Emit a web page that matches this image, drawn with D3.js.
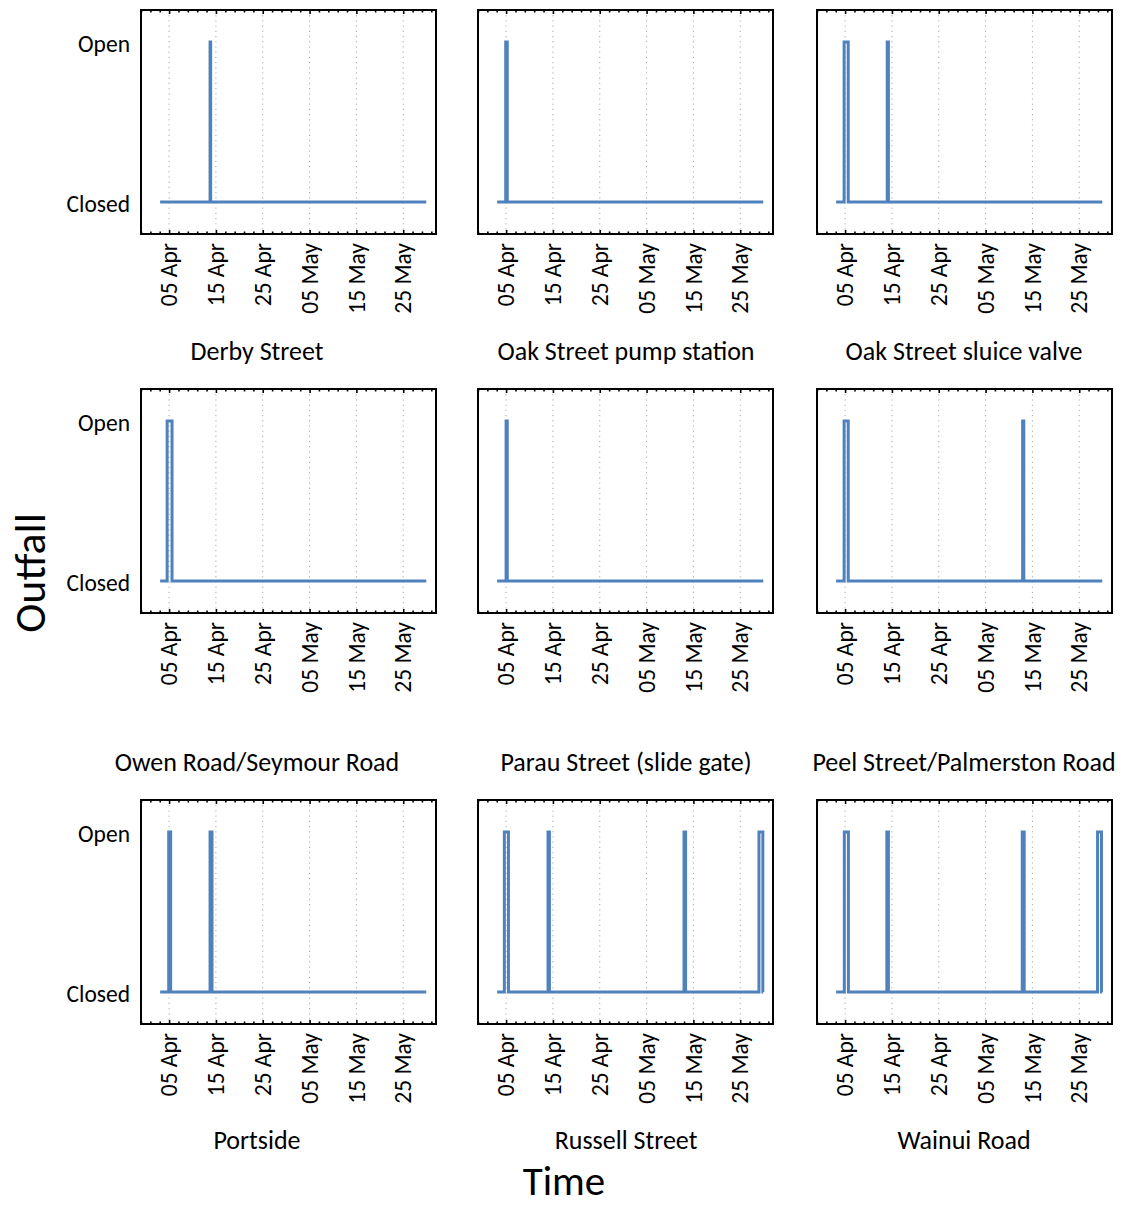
<!DOCTYPE html>
<html>
<head>
<meta charset="utf-8">
<script src="https://cdn.jsdelivr.net/npm/d3@7"></script>
<style>
  html, body { margin: 0; padding: 0; background: #fff; }
  svg { display: block; font-family: Carlito, Calibri, Lato, sans-serif; }
</style>
</head>
<body>
<svg id="chart" width="1122" height="1205"></svg>
<script>
// Outfall sites, one small panel each (row-major order)
const sites = [
  "Derby Street", "Oak Street pump station", "Oak Street sluice valve",
  "Owen Road/Seymour Road", "Parau Street (slide gate)", "Peel Street/Palmerston Road",
  "Portside", "Russell Street", "Wainui Road"
];

// Record period covered by the logger
const recordStart = "2021-04-03 02:00";
const recordEnd = "2021-05-29 22:00";

// Open periods per site: [opened, closed]
const openDerby = [["2021-04-13 18:00", "2021-04-13 21:00"]];
const openOakPump = [["2021-04-04 22:00", "2021-04-05 06:00"]];
const openOakSluice = [["2021-04-04 19:00", "2021-04-05 16:00"], ["2021-04-14 00:00", "2021-04-14 06:00"]];
const openOwen = [["2021-04-04 14:00", "2021-04-05 15:00"]];
const openParau = [["2021-04-05 00:00", "2021-04-05 06:00"]];
const openPeel = [["2021-04-04 19:00", "2021-04-05 16:00"], ["2021-05-12 22:00", "2021-05-13 04:00"]];
const openPortside = [["2021-04-04 22:00", "2021-04-05 08:00"], ["2021-04-13 18:00", "2021-04-14 04:00"]];
const openRussell = [["2021-04-04 15:00", "2021-04-05 12:00"], ["2021-04-13 23:00", "2021-04-14 06:00"],
                     ["2021-05-13 00:00", "2021-05-13 08:00"], ["2021-05-29 00:00", "2021-05-29 20:00"]];
const openWainui = [["2021-04-04 20:00", "2021-04-05 17:00"], ["2021-04-13 22:00", "2021-04-14 06:00"],
                    ["2021-05-12 20:00", "2021-05-13 06:00"], ["2021-05-28 22:00", "2021-05-29 18:00"]];
const openPeriods = [openDerby, openOakPump, openOakSluice, openOwen, openParau, openPeel,
                     openPortside, openRussell, openWainui];

// Axis labels
const stateLabels = ["Closed", "Open"];
const dateTicks = ["2021-04-05", "2021-04-15", "2021-04-25", "2021-05-05", "2021-05-15", "2021-05-25"];
const xDomain = ["2021-03-30", "2021-06-01"];

const parseTime = d3.timeParse("%Y-%m-%d %H:%M");
const parseDay = d3.timeParse("%Y-%m-%d");

const svg = d3.select("#chart");

// Panel geometry
const colLeft = [141, 478, 817];
const rowTop = [10, 389, 800];
const pw = 295, ph = 224;
const titleY = [360, 771, 1149];
const titleX = [257, 626, 964];

const x = d3.scaleTime().domain(xDomain.map(parseDay)).range([0, pw]);
const y = d3.scaleLinear().domain([-0.2, 1.2]).range([ph, 0]);

const majorTicks = dateTicks.map(parseDay);
const minorTicks = d3.timeDay.range(x.domain()[0], x.domain()[1])
  .filter(d => {
    const off = Math.round((d - majorTicks[0]) / 864e5);
    return off % 2 === 0 && off % 10 !== 0;
  });

const line = d3.line().x(d => x(d[0])).y(d => y(d[1]));

function stepPoints(periods) {
  const pts = [[parseTime(recordStart), 0]];
  periods.forEach(([a, b]) => {
    const t0 = parseTime(a), t1 = parseTime(b);
    pts.push([t0, 0], [t0, 1], [t1, 1], [t1, 0]);
  });
  pts.push([parseTime(recordEnd), 0]);
  return pts;
}

sites.forEach((name, i) => {
  const r = Math.floor(i / 3), c = i % 3;
  const g = svg.append("g").attr("transform", `translate(${colLeft[c]},${rowTop[r]})`);

  // dotted vertical gridlines at major dates
  g.append("g").selectAll("line").data(majorTicks).join("line")
    .attr("x1", d => x(d)).attr("x2", d => x(d))
    .attr("y1", 0).attr("y2", ph)
    .attr("stroke", "#a8a8a8").attr("stroke-width", 1)
    .attr("stroke-dasharray", "1.2,4");

  // state trace
  g.append("path")
    .attr("d", line(stepPoints(openPeriods[i])))
    .attr("fill", "none")
    .attr("stroke", "#4f81bd")
    .attr("stroke-width", 3)
    .attr("stroke-linejoin", "miter");

  // inward ticks on top and bottom edges
  const tickBottomMajor = d3.axisBottom(x).tickValues(majorTicks).tickSize(-4).tickFormat("");
  const tickBottomMinor = d3.axisBottom(x).tickValues(minorTicks).tickSize(-2.5).tickFormat("");
  const tickTopMajor = d3.axisTop(x).tickValues(majorTicks).tickSize(-4).tickFormat("");
  const tickTopMinor = d3.axisTop(x).tickValues(minorTicks).tickSize(-2.5).tickFormat("");
  [[tickBottomMajor, ph], [tickBottomMinor, ph], [tickTopMajor, 0], [tickTopMinor, 0]].forEach(([ax, ty]) => {
    const a = g.append("g").attr("transform", `translate(0,${ty})`).call(ax);
    a.select(".domain").remove();
    a.selectAll("line").attr("stroke", "#000").attr("stroke-width", 1.6);
  });

  // frame
  g.append("rect").attr("x", 0).attr("y", 0).attr("width", pw).attr("height", ph)
    .attr("fill", "none").attr("stroke", "#000").attr("stroke-width", 2);

  // rotated date labels
  g.append("g").selectAll("text").data(majorTicks).join("text")
    .attr("transform", d => `translate(${x(d)},${ph + 9}) rotate(-90)`)
    .attr("text-anchor", "end")
    .attr("dy", "0.35em")
    .attr("font-size", 23.5)
    .attr("fill", "#000")
    .text(d3.timeFormat("%d %b"));

  // state labels on first column only
  if (c === 0) {
    g.append("g").selectAll("text").data([0, 1]).join("text")
      .attr("x", -11).attr("y", d => y(d) + 1.5)
      .attr("text-anchor", "end")
      .attr("dy", "0.35em")
      .attr("font-size", 23.5)
      .attr("fill", "#000")
      .text(d => stateLabels[d]);
  }

  // panel title
  svg.append("text")
    .attr("x", titleX[c]).attr("y", titleY[r])
    .attr("text-anchor", "middle")
    .attr("font-size", 26)
    .attr("fill", "#000")
    .text(name);
});

// shared axis titles
svg.append("text")
  .attr("transform", "translate(45,573) rotate(-90)")
  .attr("text-anchor", "middle")
  .attr("font-size", 44)
  .attr("fill", "#000")
  .text("Outfall");

svg.append("text")
  .attr("x", 564).attr("y", 1195)
  .attr("text-anchor", "middle")
  .attr("font-size", 41)
  .attr("fill", "#000")
  .text("Time");
</script>
</body>
</html>
